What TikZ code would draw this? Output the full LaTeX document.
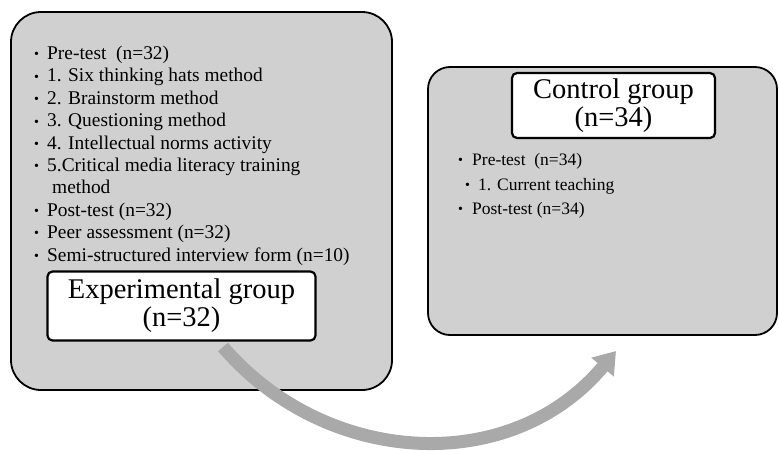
\documentclass[tikz,border=0pt]{standalone}
\usepackage{fontspec}
\setmainfont{Liberation Serif}
\usetikzlibrary{arrows.meta}
\definecolor{boxgray}{RGB}{207,208,207}
\definecolor{arrowgray}{RGB}{168,169,168}
\newcommand{\bulA}{\makebox[13pt][l]{\fontsize{14}{14}\selectfont\raisebox{0.5pt}{•}}}
\newcommand{\bulB}{\makebox[14pt][l]{\fontsize{14}{14}\selectfont\raisebox{0.5pt}{•}}}
\tikzset{
  groupbox/.style={draw=black, line width=1.8pt, fill=boxgray},
  titlebox/.style={draw=black, line width=2.2pt, fill=white, rounded corners=5pt,
    align=center, inner sep=0pt, font=\fontsize{28.5}{28}\selectfont},
  item/.style={anchor=base west, inner sep=0pt, font=\fontsize{19.4}{22}\selectfont},
  itemr/.style={anchor=base west, inner sep=0pt, font=\fontsize{17.5}{22}\selectfont},
  bigarrow/.style={draw=arrowgray, line width=13pt,
    -{Triangle[width=28pt,length=21pt]}}
}
\begin{document}
\begin{tikzpicture}[x=1pt,y=-1pt]
\useasboundingbox (0,0) rectangle (779,450);
% group boxes
\draw[groupbox, rounded corners=30pt] (11,12) rectangle (392,390);
\draw[groupbox, rounded corners=22pt] (428,67) rectangle (777,335);
% experimental list
\node[item] (e1) at (34,59) {\bulA Pre-test\ \ (n=32)};
\node[item] (e2) at (34,81.5) {\bulA 1. Six thinking hats method};
\node[item] (e3) at (34,104) {\bulA 2. Brainstorm method};
\node[item] (e4) at (34,126.5) {\bulA 3. Questioning method};
\node[item] (e5) at (34,149) {\bulA 4. Intellectual norms activity};
\node[item] (e6) at (34,171) {\bulA 5.Critical media literacy training};
\node[item] (e6b) at (52,193.5) {method};
\node[item] (e7) at (34,216) {\bulA Post-test (n=32)};
\node[item] (e8) at (34,238) {\bulA Peer assessment (n=32)};
\node[item] (e9) at (34,261) {\bulA Semi-structured interview form (n=10)};
% experimental title
\node[titlebox, minimum width=268pt, minimum height=69pt] (exp) at (181.5,306)
  {Experimental group\\(n=32)};
% control title
\node[titlebox, minimum width=203pt, minimum height=65pt] (ctl) at (613.5,105.5)
  {Control group\\(n=34)};
% control list
\node[itemr] (c1) at (458,165) {\bulB Pre-test\ \ (n=34)};
\node[itemr] (c2) at (465,190) {\bulA 1. Current teaching};
\node[itemr] (c3) at (458,214) {\bulB Post-test (n=34)};
% curved arrow
\coordinate (as) at (223,347);
\coordinate (ae) at (616,351);
\draw[bigarrow] (as) .. controls (325,466) and (510,478) .. (ae);
\end{tikzpicture}
\end{document}
